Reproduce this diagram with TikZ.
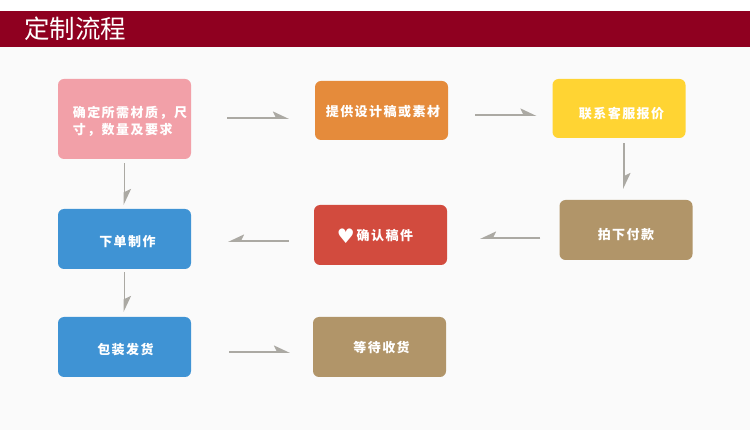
\documentclass[tikz,border=0pt]{standalone}
\usepackage{fontspec}
\usepackage{tikz}
\usetikzlibrary{arrows.meta}
\newfontfamily\cjk[LetterSpace=11.5]{Noto Sans CJK SC}
\newfontfamily\cjktitle{Noto Sans CJK SC}
\newfontfamily\symfont{DejaVu Sans}
\definecolor{bannerred}{HTML}{8F0020}
\definecolor{pagegray}{HTML}{FAFAFA}
\definecolor{flowpink}{HTML}{F2A0A8}
\definecolor{floworange}{HTML}{E58B3B}
\definecolor{flowyellow}{HTML}{FFD433}
\definecolor{flowbrown}{HTML}{B19569}
\definecolor{flowred}{HTML}{D24B3E}
\definecolor{flowblue}{HTML}{3F93D4}
\definecolor{arrowgray}{HTML}{ABA9A3}

\begin{document}
\begin{tikzpicture}[
  x=1pt, y=-1pt,
  box/.style={rectangle, rounded corners=6pt, inner sep=0pt, text=white, minimum width=133pt, minimum height=60pt,
    font=\cjk\bfseries\fontsize{13}{17}\selectfont},
  drop/.style={text height=#1, text depth=0pt},
  arr/.style={-{Stealth[harpoon, length=14pt, width=13pt, inset=3pt]}, draw=arrowgray, line width=1.7pt},
  arrback/.style={-{Stealth[harpoon, swap, length=14pt, width=13pt, inset=3pt]}, draw=arrowgray, line width=1.7pt}
]
\useasboundingbox (0,0) rectangle (750,430);
\fill[white] (0,0) rectangle (750,430);
\fill[pagegray] (0,47) rectangle (750,430);

\node[minimum width=750pt, minimum height=36pt, inner sep=0pt, fill=bannerred] (banner) at (375,29) {};
\node[anchor=west, inner sep=0pt, text=white, font=\cjktitle\fontsize{25.5}{30}\selectfont] (title) at (24,28.5) {定制流程};

\node[box, fill=flowpink, minimum height=80pt, align=left] (need) at (124.5,119) {\rule{0pt}{17pt}\hspace*{11pt}确定所需材质，尺\\\hspace*{11pt}寸，数量及要求};
\node[box, fill=floworange, minimum height=59pt, drop=12pt] (draft) at (381.5,110.5) {\hspace*{3pt}提供设计稿或素材};
\node[box, fill=flowyellow, minimum height=59pt, drop=21pt] (service) at (619,108.5) {\hspace*{5pt}联系客服报价};
\node[box, fill=flowbrown, drop=20pt] (pay) at (626,230) {拍下付款};
\node[box, fill=flowred, drop=11pt] (confirm) at (380.5,235) {{\symfont\fontsize{20}{20}\selectfont\raisebox{-3.5pt}{♥}}\hspace{2pt}确认稿件\hspace*{11pt}};
\node[box, fill=flowblue, drop=16pt] (order) at (124.5,239) {\hspace*{6pt}下单制作};
\node[box, fill=flowblue, drop=16pt] (pack) at (124.5,347) {\hspace*{2pt}包装发货};
\node[box, fill=flowbrown, drop=12pt] (wait) at (379.5,347) {\hspace*{4pt}等待收货};

\draw[arr, shorten <=36pt, shorten >=26pt] ([yshift=1pt]need.east) -- ([yshift=1pt]need.east -| draft.west);
\draw[arr, shorten <=27pt, shorten >=16pt] ([yshift=-4.5pt]draft.east) -- ([yshift=-4.5pt]draft.east -| service.west);
\draw[arr, shorten <=5pt, shorten >=11pt] ([xshift=5pt]service.south) -- ([xshift=5pt]service.south |- pay.north);
\draw[arrback, shorten <=19pt, shorten >=33pt] ([yshift=-8pt]pay.west) -- ([yshift=-8pt]pay.west -| confirm.east);
\draw[arrback, shorten <=25pt, shorten >=37pt] ([yshift=-6pt]confirm.west) -- ([yshift=-6pt]confirm.west -| order.east);
\draw[arr, shorten <=4pt, shorten >=4pt] (need) -- (order);
\draw[arr, shorten <=3pt, shorten >=5pt] (order) -- (pack);
\draw[arr, shorten <=38pt, shorten >=23pt] ([yshift=-5pt]pack.east) -- ([yshift=-5pt]pack.east -| wait.west);
\end{tikzpicture}
\end{document}
